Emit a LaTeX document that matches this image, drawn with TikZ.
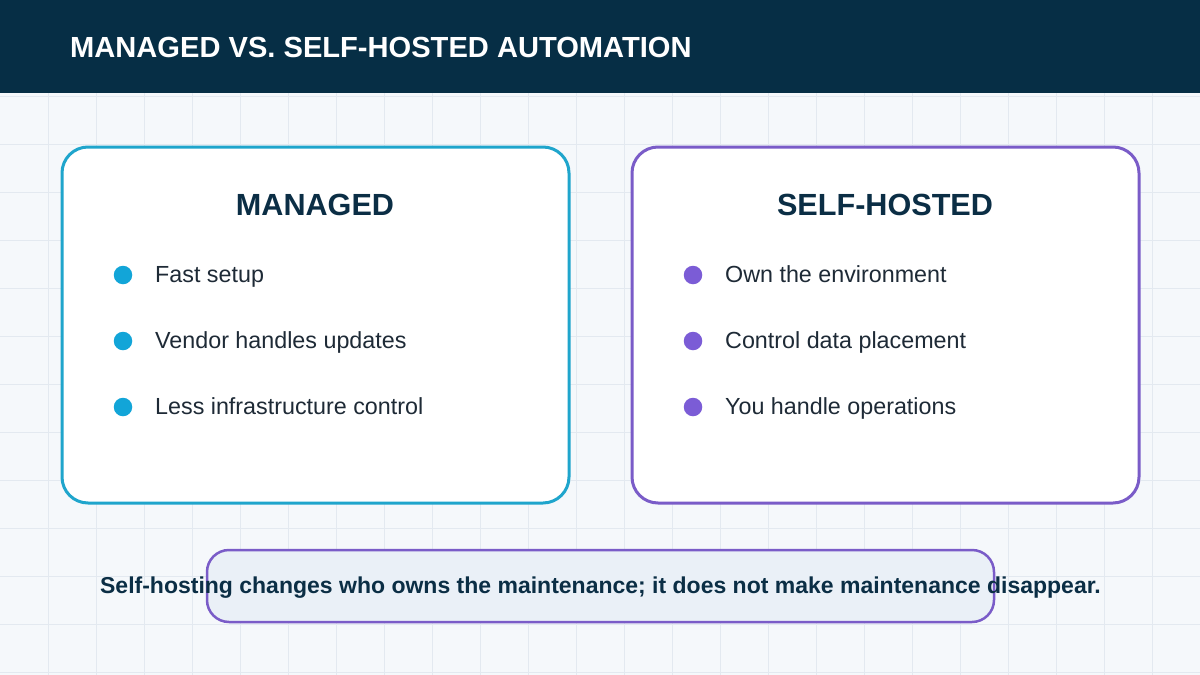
\documentclass[tikz,border=0pt]{standalone}
\usepackage{fontspec}
\setmainfont{Liberation Sans}
\begin{document}
\definecolor{bg}{HTML}{F5F8FB}
\definecolor{gridc}{HTML}{E3E9F0}
\definecolor{head}{HTML}{062E45}
\definecolor{navy}{HTML}{0B2E45}
\definecolor{txt}{HTML}{1E2A36}
\definecolor{cyanc}{HTML}{1FA5CC}
\definecolor{cyandot}{HTML}{12A5D8}
\definecolor{purp}{HTML}{7A5CC8}
\definecolor{purpdot}{HTML}{7B5CD6}
\definecolor{notefill}{HTML}{EAF0F7}
\begin{tikzpicture}[x=1pt,y=-1pt,
  card/.style={line width=3pt,fill=white,rounded corners=26pt},
  heading/.style={anchor=base,text=navy,font=\fontsize{30.6}{35}\selectfont\bfseries,inner sep=0pt},
  item/.style={anchor=base west,text=txt,font=\fontsize{23.3}{27}\selectfont,inner sep=0pt},
  dot/.style={circle,inner sep=0pt,minimum size=18.5pt}]
\useasboundingbox (0,0) rectangle (1200,675);
\fill[bg] (0,0) rectangle (1200,675);
\foreach \x in {48,96,...,1152} \draw[gridc,line width=1pt] (\x,93) -- (\x,675);
\foreach \y in {96,144,...,672} \draw[gridc,line width=1pt] (0,\y) -- (1200,\y);
\fill[head] (0,0) rectangle (1200,93);
\node[anchor=base west,text=white,font=\fontsize{29.1}{34}\selectfont\bfseries,inner sep=0pt] (title) at (70,57) {MANAGED VS. SELF-HOSTED AUTOMATION};

\draw[card,draw=cyanc] (62,147) rectangle (569,503);
\draw[card,draw=purp] (632,147) rectangle (1139,503);

\node[heading] (h1) at (315,215) {MANAGED};
\node[heading] (h2) at (885,215) {SELF-HOSTED};

\node[dot,fill=cyandot] (d1) at (123,275) {};
\node[dot,fill=cyandot] (d2) at (123,341) {};
\node[dot,fill=cyandot] (d3) at (123,407) {};
\node[item] (t1) at (155,282) {Fast setup};
\node[item] (t2) at (155,348) {Vendor handles updates};
\node[item] (t3) at (155,414) {Less infrastructure control};

\node[dot,fill=purpdot] (e1) at (693,275) {};
\node[dot,fill=purpdot] (e2) at (693,341) {};
\node[dot,fill=purpdot] (e3) at (693,407) {};
\node[item] (u1) at (725,282) {Own the environment};
\node[item] (u2) at (725,348) {Control data placement};
\node[item] (u3) at (725,414) {You handle operations};

\draw[line width=2.5pt,draw=purp,fill=notefill,rounded corners=22pt] (207,550) rectangle (994,622);
\node[anchor=base,text=navy,font=\fontsize{23}{27}\selectfont\bfseries,inner sep=0pt] (note) at (600.5,593) {Self-hosting changes who owns the maintenance; it does not make maintenance disappear.};
\end{tikzpicture}
\end{document}
